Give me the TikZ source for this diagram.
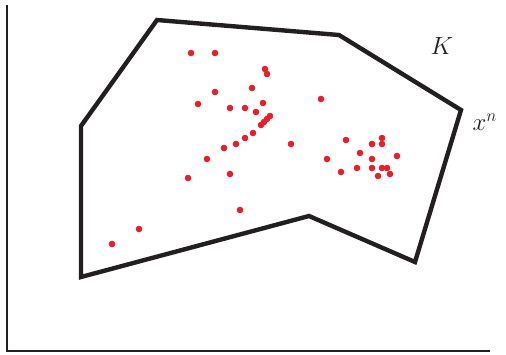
\documentclass[tikz,border=0pt]{standalone}
\usepackage{amsmath}
\usepackage{tikz}
\usetikzlibrary{positioning}
\definecolor{hullblack}{RGB}{35,31,32}
\definecolor{ptred}{RGB}{232,30,42}

\begin{document}
\begin{tikzpicture}[x=1pt, y=-1pt,
      axis/.style={draw=hullblack, line width=2pt},
      hull/.style={draw=hullblack, line width=4.4pt, line join=miter},
      pt/.style={fill=ptred},
      lab/.style={font=\fontsize{27}{30}\selectfont, text=hullblack}]
    \useasboundingbox (0,0) rectangle (506,354);
    % axes
    \coordinate (o) at (7,351);
    \coordinate (ytop) at (7,5);
    \coordinate (xend) at (490,351);
    \draw[axis] (ytop) -- (o) -- (xend);
    % the set K
    \coordinate (k1) at (157,20);
    \coordinate (k2) at (339,35);
    \coordinate (k3) at (461,110);
    \coordinate (k4) at (415,262);
    \coordinate (k5) at (309,216);
    \coordinate (k6) at (81,277);
    \coordinate (k7) at (81,126);
    \draw[hull] (k1) -- (k2) -- (k3) -- (k4) -- (k5) -- (k6) -- (k7) -- cycle;
    \node[lab] (setK) at (442,46) {$K$};
    \node[lab, right=8pt of k3, yshift=-12pt] (xn) {$x^n$};
    % samples
    \foreach \x/\y in {191/53, 215/53, 265/69, 267/74, 215/92, 252/88, 198/104,
        230/108, 245/108, 263/103, 256/112, 270/116, 267/119, 264/122, 261/125,
        253/133, 245/138, 236/144, 224/148, 207/159, 188/178, 230/174, 240/210,
        139/229, 112/244, 321/99, 291/144,
        346/140, 327/159, 341/172, 360/153, 357/168, 372/144, 382/138, 382/144,
        372/159, 372/168, 382/168, 387/168, 378/176, 390/174, 397/156}
      \fill[pt] (\x,\y) circle (3.3pt);
  \end{tikzpicture}
\end{document}
